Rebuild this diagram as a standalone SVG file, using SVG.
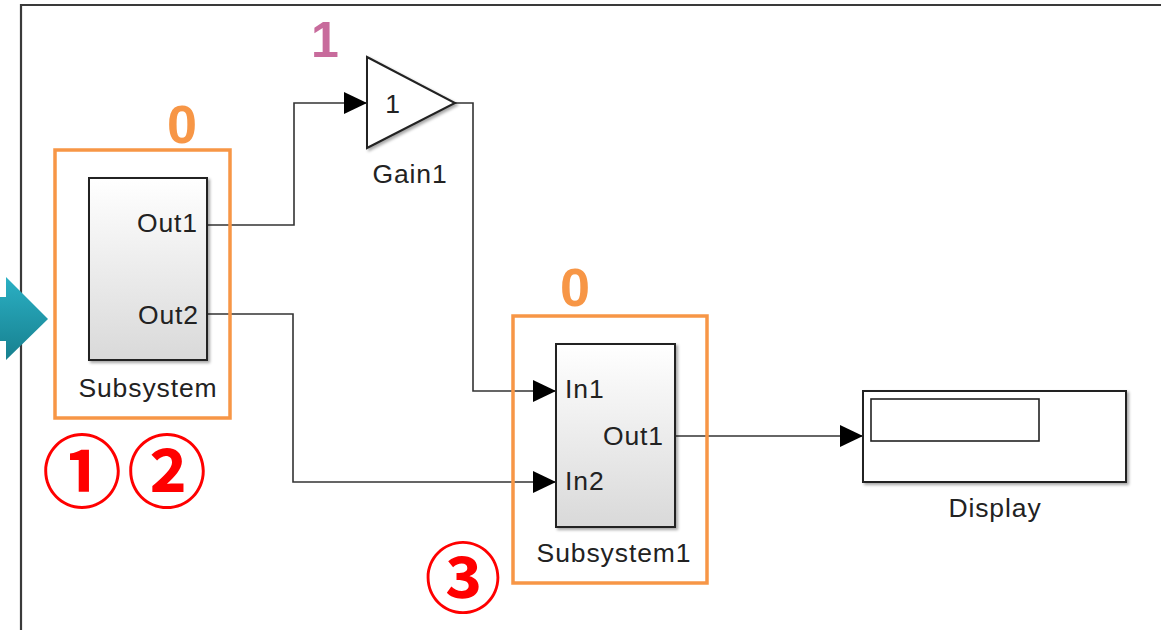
<svg xmlns="http://www.w3.org/2000/svg" width="1161" height="630" viewBox="0 0 1161 630">
<style>
.lbl{font-family:"Liberation Sans",Arial,sans-serif;font-size:26.5px;letter-spacing:0.9px;fill:#222}
.blk{stroke:#222;stroke-width:2;fill:url(#bg)}
.wb{stroke:#222;stroke-width:2;fill:#fff}
.org{fill:none;stroke:#f79646;stroke-width:3.5}
.onum{font-family:"Liberation Sans",Arial,sans-serif;font-weight:bold;font-size:54px;fill:#f79646;text-anchor:middle}
.pnum{font-family:"Liberation Sans",Arial,sans-serif;font-weight:bold;font-size:50px;fill:#c86b9c;text-anchor:middle}
.circ{font-family:"Noto Sans CJK JP","Noto Sans CJK SC",sans-serif;font-weight:bold;font-size:80px;fill:#ff0000;text-anchor:middle}
.wire{fill:none;stroke:#333;stroke-width:1.6}
</style>
<defs>
<linearGradient id="bg" x1="0" y1="0" x2="0" y2="1">
<stop offset="0" stop-color="#ffffff"/>
<stop offset="1" stop-color="#d9d9d9"/>
</linearGradient>
<linearGradient id="teal" x1="0" y1="0" x2="0" y2="1">
<stop offset="0" stop-color="#2bb0c4"/>
<stop offset="1" stop-color="#17808f"/>
</linearGradient>
<filter id="sh" x="-10%" y="-10%" width="130%" height="130%">
<feDropShadow dx="2" dy="2" stdDeviation="1.5" flood-color="#000" flood-opacity="0.35"/>
</filter>
<marker id="ah" markerWidth="23" markerHeight="22" refX="23" refY="11" orient="auto" markerUnits="userSpaceOnUse">
<path d="M0,0 L23,11 L0,22 z" fill="#000"/>
</marker>
</defs>
<rect width="1161" height="630" fill="#fff"/>
<path d="M21,630 V5 H1161" fill="none" stroke="#3a3a3a" stroke-width="2.2"/>
<g id="teal-arrow">
<path d="M0,297 H6 V277 L48,319 L6,360 V341 H0 Z" fill="url(#teal)"/>
</g>
<g id="connectors">
<path class="wire" d="M207,225 H294 V103 H367" marker-end="url(#ah)"/>
<path class="wire" d="M455,103 H473 V391 H556" marker-end="url(#ah)"/>
<path class="wire" d="M207,314 H293 V482 H556" marker-end="url(#ah)"/>
<path class="wire" d="M675,436 H863" marker-end="url(#ah)"/>
</g>
<g id="subsystem">
<rect class="blk" x="89" y="178" width="118" height="182" filter="url(#sh)"/>
<text class="lbl" x="198" y="232" text-anchor="end">Out1</text>
<text class="lbl" x="199" y="324" text-anchor="end">Out2</text>
<text class="lbl" x="148" y="397" text-anchor="middle">Subsystem</text>
</g>
<g id="gain1">
<path class="wb" d="M367,57 L455,103 L367,148 Z" filter="url(#sh)"/>
<text class="lbl" x="393" y="113" text-anchor="middle">1</text>
<text class="lbl" x="410" y="183" text-anchor="middle">Gain1</text>
</g>
<g id="subsystem1">
<rect class="blk" x="556" y="344" width="119" height="183" filter="url(#sh)"/>
<text class="lbl" x="565" y="398">In1</text>
<text class="lbl" x="565" y="490">In2</text>
<text class="lbl" x="664" y="445" text-anchor="end">Out1</text>
<text class="lbl" x="614" y="562" text-anchor="middle">Subsystem1</text>
</g>
<g id="display">
<rect class="wb" x="863" y="391" width="263" height="91" filter="url(#sh)"/>
<rect x="871" y="399" width="168" height="42" fill="#fff" stroke="#222" stroke-width="1.6"/>
<text class="lbl" x="995" y="517" text-anchor="middle">Display</text>
</g>
<g id="annot-box1">
<rect class="org" x="55" y="150" width="175" height="268"/>
<text class="onum" x="182" y="143">0</text>
</g>
<g id="annot-box2">
<rect class="org" x="513" y="316" width="194" height="267"/>
<text class="onum" x="575" y="306">0</text>
</g>
<g id="annot-gain">
<text class="pnum" x="325" y="57">1</text>
</g>
<g id="circled">
<text class="circ" x="82" y="501">①</text>
<text class="circ" x="167" y="501">②</text>
<text class="circ" x="463" y="607" style="font-size:77px">③</text>
</g>
</svg>
